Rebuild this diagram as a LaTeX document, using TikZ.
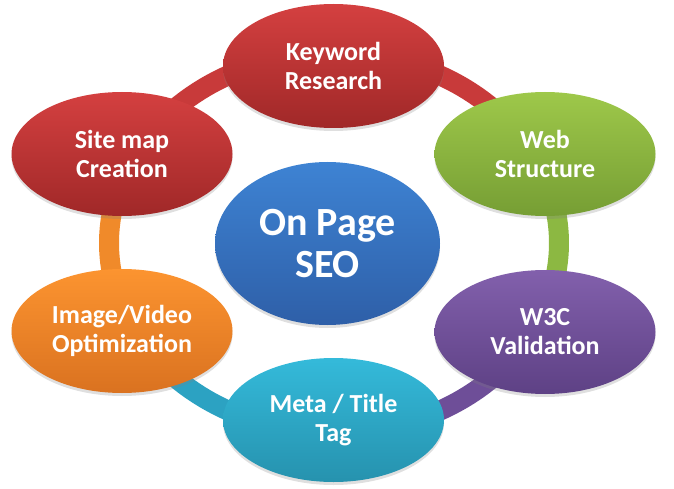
\documentclass[tikz,border=0pt]{standalone}
\usepackage{fontspec}
\setmainfont{Carlito}
\usetikzlibrary{shapes.geometric,shadows}
\definecolor{redT}{RGB}{212,64,64}
\definecolor{redB}{RGB}{160,40,40}
\definecolor{redR}{RGB}{200,58,58}
\definecolor{grnT}{RGB}{158,200,74}
\definecolor{grnB}{RGB}{118,158,52}
\definecolor{grnR}{RGB}{140,184,66}
\definecolor{purT}{RGB}{130,96,172}
\definecolor{purB}{RGB}{94,65,133}
\definecolor{purR}{RGB}{110,78,152}
\definecolor{tealT}{RGB}{52,186,218}
\definecolor{tealB}{RGB}{38,146,174}
\definecolor{tealR}{RGB}{44,162,194}
\definecolor{orgT}{RGB}{252,148,48}
\definecolor{orgB}{RGB}{218,114,32}
\definecolor{orgR}{RGB}{240,138,42}
\definecolor{bluT}{RGB}{62,131,211}
\definecolor{bluB}{RGB}{46,95,168}
\tikzset{
  bubble/.style={ellipse, inner sep=0pt, minimum width=221pt, minimum height=124pt,
    align=center, text=white, font=\fontsize{26}{29}\selectfont\bfseries,
    drop shadow={opacity=0.25, shadow xshift=0pt, shadow yshift=-3pt}},
  ringseg/.style={line width=20pt, line cap=butt}
}
\begin{document}
\begin{tikzpicture}[x=1pt,y=-1pt]
\useasboundingbox (0,0) rectangle (674,489);
% ring segments
\draw[ringseg, redR]  plot[domain=90:25, samples=40] ({334+225*cos(\x)},{243-190*sin(\x)});
\draw[ringseg, grnR]  plot[domain=25:-25, samples=40] ({334+225*cos(\x)},{243-190*sin(\x)});
\draw[ringseg, purR]  plot[domain=-25:-90, samples=40] ({334+225*cos(\x)},{243-190*sin(\x)});
\draw[ringseg, tealR] plot[domain=-90:-155, samples=40] ({334+225*cos(\x)},{243-190*sin(\x)});
\draw[ringseg, orgR]  plot[domain=-155:-205, samples=40] ({334+225*cos(\x)},{243-190*sin(\x)});
\draw[ringseg, redR]  plot[domain=155:90, samples=40] ({334+225*cos(\x)},{243-190*sin(\x)});
% nodes
\node[bubble, top color=redT, bottom color=redB] (kw) at (333.5,66) {Keyword\\Research};
\node[bubble, top color=grnT, bottom color=grnB] (web) at (545,154) {Web\\Structure};
\node[bubble, top color=purT, bottom color=purB] (w3c) at (545,332) {W3C\\Validation};
\node[bubble, top color=tealT, bottom color=tealB] (meta) at (333.5,420) {Meta / Title\\Tag};
\node[bubble, top color=orgT, bottom color=orgB] (img) at (122,331) {Image/Video\\Optimization};
\node[bubble, top color=redT, bottom color=redB] (site) at (122,154) {Site map\\Creation};
\node[bubble, top color=bluT, bottom color=bluB, minimum width=225pt, minimum height=163pt,
      font=\fontsize{40}{42}\selectfont\bfseries] (seo) at (327.5,243.5) {On Page\\SEO};
\end{tikzpicture}
\end{document}
